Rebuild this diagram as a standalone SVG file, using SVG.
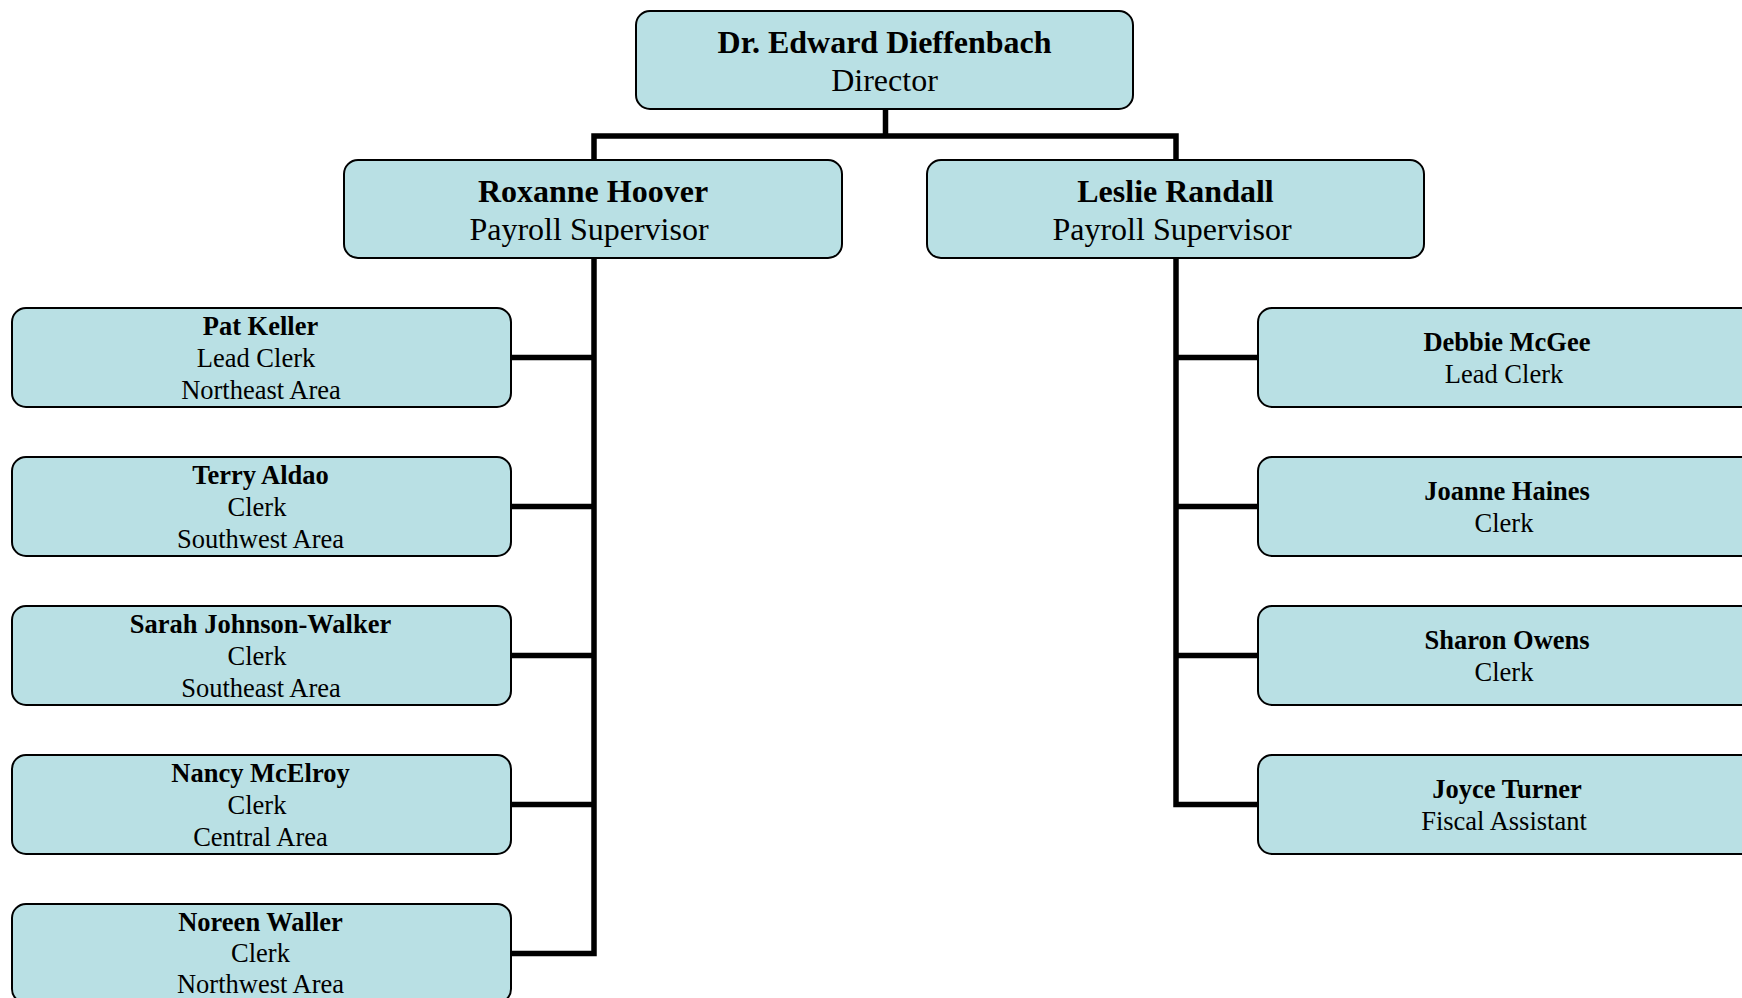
<svg xmlns="http://www.w3.org/2000/svg" width="1742" height="998" viewBox="0 0 1742 998">
<style>
.box{fill:#b9e0e4;stroke:#000;stroke-width:2}
.conn{fill:none;stroke:#000;stroke-width:5.5;stroke-linejoin:miter;stroke-linecap:square}
text{font-family:"Liberation Serif","Times New Roman",serif;fill:#000;text-anchor:middle}
.n1{font-size:32px;font-weight:bold}
.t1{font-size:32px}
.n2{font-size:26.5px;font-weight:bold}
.t2{font-size:26.5px}
</style>
<rect width="1742" height="998" fill="#fff"/>
<g id="connectors">
<path class="conn" d="M885.5 109 V136 M594 136 H1176 M594 136 V160 M1176 136 V160"/>
<path class="conn" d="M594 258 V953.5 M511 357.5 H594 M511 506.5 H594 M511 655.5 H594 M511 804.5 H594 M511 953.5 H594"/>
<path class="conn" d="M1176 258 V804.5 M1176 357.5 H1258 M1176 506.5 H1258 M1176 655.5 H1258 M1176 804.5 H1258"/>
</g>
<g id="director">
<rect class="box" x="636" y="11" width="497" height="98" rx="14"/>
<text class="n1" x="884.5" y="53">Dr. Edward Dieffenbach</text>
<text class="t1" x="884.5" y="90.5">Director</text>
</g>
<g id="roxanne">
<rect class="box" x="344" y="160" width="498" height="98" rx="14"/>
<text class="n1" x="593" y="202">Roxanne Hoover</text>
<text class="t1" x="589" y="240">Payroll Supervisor</text>
</g>
<g id="leslie">
<rect class="box" x="927" y="160" width="497" height="98" rx="14"/>
<text class="n1" x="1175.5" y="202">Leslie Randall</text>
<text class="t1" x="1172" y="240">Payroll Supervisor</text>
</g>
<g id="pat">
<rect class="box" x="12" y="308" width="499" height="99" rx="14"/>
<text class="n2" x="260.5" y="334.5">Pat Keller</text>
<text class="t2" x="256" y="366.5">Lead Clerk</text>
<text class="t2" x="261" y="398.5">Northeast Area</text>
</g>
<g id="terry">
<rect class="box" x="12" y="457" width="499" height="99" rx="14"/>
<text class="n2" x="260.5" y="483.5">Terry Aldao</text>
<text class="t2" x="257" y="515.5">Clerk</text>
<text class="t2" x="260.5" y="547.5">Southwest Area</text>
</g>
<g id="sarah">
<rect class="box" x="12" y="606" width="499" height="99" rx="14"/>
<text class="n2" x="260.5" y="632.5">Sarah Johnson-Walker</text>
<text class="t2" x="257" y="664.5">Clerk</text>
<text class="t2" x="261" y="696.5">Southeast Area</text>
</g>
<g id="nancy">
<rect class="box" x="12" y="755" width="499" height="99" rx="14"/>
<text class="n2" x="260.5" y="781.5">Nancy McElroy</text>
<text class="t2" x="257" y="813.5">Clerk</text>
<text class="t2" x="260.5" y="845.5">Central Area</text>
</g>
<g id="noreen">
<rect class="box" x="12" y="904" width="499" height="99" rx="14"/>
<text class="n2" x="260.5" y="930.5">Noreen Waller</text>
<text class="t2" x="260.5" y="962">Clerk</text>
<text class="t2" x="260.5" y="993">Northwest Area</text>
</g>
<g id="debbie">
<rect class="box" x="1258" y="308" width="498" height="99" rx="14"/>
<text class="n2" x="1507" y="351">Debbie McGee</text>
<text class="t2" x="1504" y="382.5">Lead Clerk</text>
</g>
<g id="joanne">
<rect class="box" x="1258" y="457" width="498" height="99" rx="14"/>
<text class="n2" x="1507" y="500">Joanne Haines</text>
<text class="t2" x="1504" y="531.5">Clerk</text>
</g>
<g id="sharon">
<rect class="box" x="1258" y="606" width="498" height="99" rx="14"/>
<text class="n2" x="1507" y="649">Sharon Owens</text>
<text class="t2" x="1504" y="680.5">Clerk</text>
</g>
<g id="joyce">
<rect class="box" x="1258" y="755" width="498" height="99" rx="14"/>
<text class="n2" x="1507" y="798">Joyce Turner</text>
<text class="t2" x="1504" y="829.5">Fiscal Assistant</text>
</g>
</svg>
